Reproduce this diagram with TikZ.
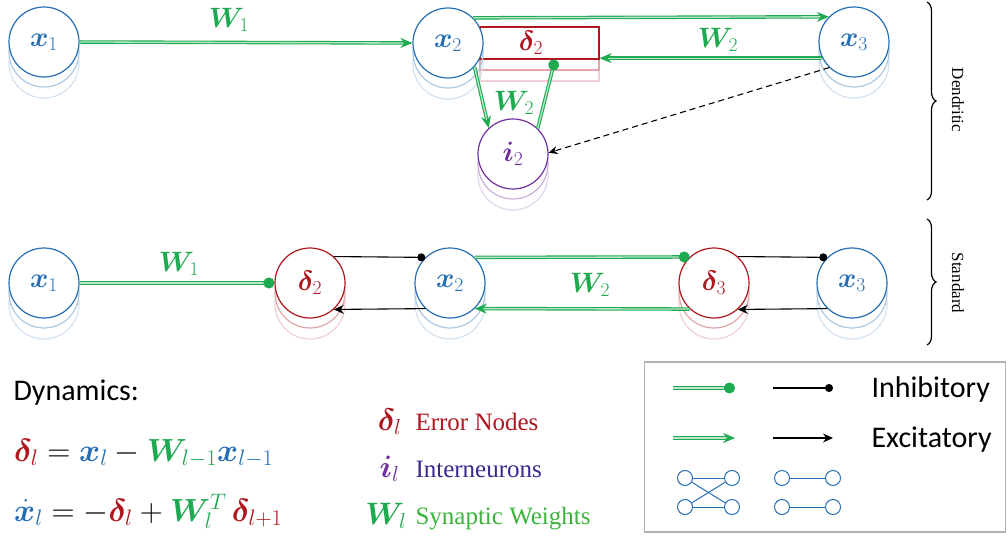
\RequirePackage{fix-cm}
\documentclass[tikz,border=0pt]{standalone}
\usepackage{fontspec}
\usepackage{amsmath,bm}
\setmainfont{Liberation Serif}
\newfontfamily\calib{Carlito}
\usetikzlibrary{arrows.meta,decorations.pathreplacing}
\definecolor{nblue}{RGB}{38,110,180}
\definecolor{nred}{RGB}{175,22,30}
\definecolor{wgreen}{RGB}{30,170,80}
\definecolor{npurple}{RGB}{112,48,160}
\definecolor{intxt}{RGB}{60,40,140}
\definecolor{syntxt}{RGB}{60,180,60}
\tikzset{
  neuron/.style={circle, line width=1.2pt, fill=white, minimum size=70pt, inner sep=0pt, font=\fontsize{28}{32}\selectfont},
  ghost/.style={circle, line width=1.2pt, minimum size=70pt, inner sep=0pt},
  gline/.style={draw=wgreen, double=wgreen!30, double distance=1.3pt, line width=1.1pt},
  excg/.style={gline, -{Stealth[length=12pt,width=10pt]}},
  inhg/.style={gline, -{Circle[length=11pt]}},
  excb/.style={draw=black, line width=1.1pt, -{Stealth[length=10pt,width=9pt]}},
  inhb/.style={draw=black, line width=1.1pt, -{Circle[length=8pt]}},
  wlab/.style={text=wgreen, font=\fontsize{28}{32}\selectfont},
  side/.style={rotate=-90, font=\fontsize{17}{20}\selectfont},
  legtxt/.style={anchor=base west, font=\fontsize{25}{30}\selectfont},
  legsym/.style={anchor=base east, font=\fontsize{31}{36}\selectfont},
  eqn/.style={anchor=base west, inner sep=0pt, font=\fontsize{32}{38}\selectfont},
  icon/.style={circle, draw=nblue, line width=1pt, minimum size=15pt, inner sep=0pt},
  iconline/.style={draw=nblue, line width=1pt},
}
\newcommand{\neuron}[5]{%
  \node[ghost, draw=#4!20] (#1g2) at (#2,#3+21) {};
  \node[ghost, draw=#4!38] (#1g1) at (#2,#3+10) {};
  \node[neuron, draw=#4, text=#4] (#1) at (#2,#3) {#5};
}
\begin{document}
\begin{tikzpicture}[x=1pt,y=-1pt]
\useasboundingbox (0,0) rectangle (1008,537);
% ---------- Dendritic ----------
\neuron{x1}{44}{42}{nblue}{$\bm{x}_1$}
\neuron{x3}{854}{42}{nblue}{$\bm{x}_3$}
\neuron{i2}{513}{154}{npurple}{$\bm{i}_2$}
% delta rect
\node[draw=nred!20, line width=1.2pt, minimum width=119pt, minimum height=32pt, inner sep=0pt] (d2g2) at (539.5,65) {};
\node[draw=nred!38, line width=1.2pt, minimum width=119pt, minimum height=32pt, inner sep=0pt] (d2g1) at (539.5,54) {};
\node[draw=nred, fill=white, line width=1.2pt, minimum width=119pt, minimum height=32pt, inner sep=0pt] (d2) at (539.5,43) {};
\node[text=nred, font=\fontsize{28}{32}\selectfont] (d2lab) at (531,43) {$\bm{\delta}_2$};
\neuron{x2}{448}{43}{nblue}{$\bm{x}_2$}
\coordinate (d2dot) at ([xshift=15.5pt]d2.south);

\draw[excg] (x1.east) -- (x2.west);
\node[wlab] (w1t) at (229,20) {$\bm{W}_1$};
\draw[excg] (x2.45) -- (x3.135);
\draw[excg] (x3.207) -- (x3.207 -| d2.east);
\node[wlab] (w2t) at (718,40) {$\bm{W}_2$};
\draw[excg] (x2.-42) -- (i2.133);
\node[wlab] (w2d) at (514,103) {$\bm{W}_2$};
\draw[inhg] (i2.46) -- (d2dot);
\draw[dash pattern=on 6pt off 4pt, line width=1.1pt, -{Stealth[length=9pt,width=8pt]}] (x3.226) -- (i2.2);

\draw[line width=1.2pt, decorate, decoration={brace, amplitude=9pt}] (927,2) -- (927,200);
\node[side] (dend) at (958,100) {Dendritic};

% ---------- Standard ----------
\neuron{bx1}{44}{283}{nblue}{$\bm{x}_1$}
\neuron{bd2}{310}{283}{nred}{$\bm{\delta}_2$}
\neuron{bx2}{450}{283}{nblue}{$\bm{x}_2$}
\neuron{bd3}{714}{283}{nred}{$\bm{\delta}_3$}
\neuron{bx3}{852}{283}{nblue}{$\bm{x}_3$}

\draw[inhg] (bx1.east) -- (bd2.west);
\node[wlab] (w1b) at (179,264) {$\bm{W}_1$};
\draw[inhb] (bd2.48) -- (bx2.134);
\draw[excb] (bx2.226) -- (bd2.-48);
\draw[inhg] (bx2.46) -- (bd3.133);
\draw[excg] (bd3.227) -- (bx2.-46);
\node[wlab] (w2b) at (590,285) {$\bm{W}_2$};
\draw[inhb] (bd3.48) -- (bx3.134);
\draw[excb] (bx3.226) -- (bd3.-48);

\draw[line width=1.2pt, decorate, decoration={brace, amplitude=9pt}] (927,219) -- (927,345);
\node[side] (stand) at (958,283) {Standard};

% ---------- Dynamics ----------
\node[anchor=base west, font=\calib\fontsize{30}{36}\selectfont] (dyn) at (10,400) {Dynamics:};
\node[eqn] (eq1) at (14,461)
 {$\color{nred}\bm{\delta}_l \color{black}= \color{nblue}\bm{x}_l \color{black}- \color{wgreen}\bm{W}_{l-1}\color{nblue}\bm{x}_{l-1}$};
\node[eqn] (eq2) at (14,521)
 {$\color{nblue}\dot{\bm{x}}_l \color{black}= -\color{nred}\bm{\delta}_l \color{black}+ \color{wgreen}\bm{W}_l^T\,\color{nred}\bm{\delta}_{l+1}$};

% ---------- Legend symbols ----------
\node[legsym, text=nred] (ls1) at (405,430) {$\bm{\delta}_l$};
\node[legtxt, text=nred] (lt1) at (412,430) {Error Nodes};
\node[legsym, text=npurple] (ls2) at (403,477) {$\bm{i}_l$};
\node[legtxt, text=intxt] (lt2) at (412,477) {Interneurons};
\node[legsym, text=wgreen] (ls3) at (410,524) {$\bm{W}_l$};
\node[legtxt, text=syntxt] (lt3) at (412,524) {Synaptic Weights};

% ---------- Legend box ----------
\node[draw=black!30, line width=1.2pt, minimum width=361pt, minimum height=170pt, inner sep=0pt] (box) at (825,447) {};
\coordinate (g1a) at (673,388); \coordinate (g1b) at (735,388);
\coordinate (b1a) at (773,388); \coordinate (b1b) at (833,388);
\coordinate (g2a) at (673,438); \coordinate (g2b) at (735,438);
\coordinate (b2a) at (773,438); \coordinate (b2b) at (833,438);
\draw[inhg] (g1a) -- (g1b);
\draw[inhb] (b1a) -- (b1b);
\draw[excg] (g2a) -- (g2b);
\draw[excb] (b2a) -- (b2b);
\node[anchor=base west, font=\calib\fontsize{30}{36}\selectfont] (inh) at (868,397) {Inhibitory};
\node[anchor=base west, font=\calib\fontsize{30}{36}\selectfont] (exc) at (868,447) {Excitatory};
\node[icon] (c1) at (685,478) {};
\node[icon] (c2) at (685,507) {};
\node[icon] (c3) at (732,478) {};
\node[icon] (c4) at (732,507) {};
\draw[iconline] (c1) -- (c3);
\draw[iconline] (c2) -- (c4);
\draw[iconline] (c1) -- (c4);
\draw[iconline] (c2) -- (c3);
\node[icon] (c5) at (782,478) {};
\node[icon] (c6) at (782,507) {};
\node[icon] (c7) at (833,478) {};
\node[icon] (c8) at (833,507) {};
\draw[iconline] (c5) -- (c7);
\draw[iconline] (c6) -- (c8);
\end{tikzpicture}
\end{document}
